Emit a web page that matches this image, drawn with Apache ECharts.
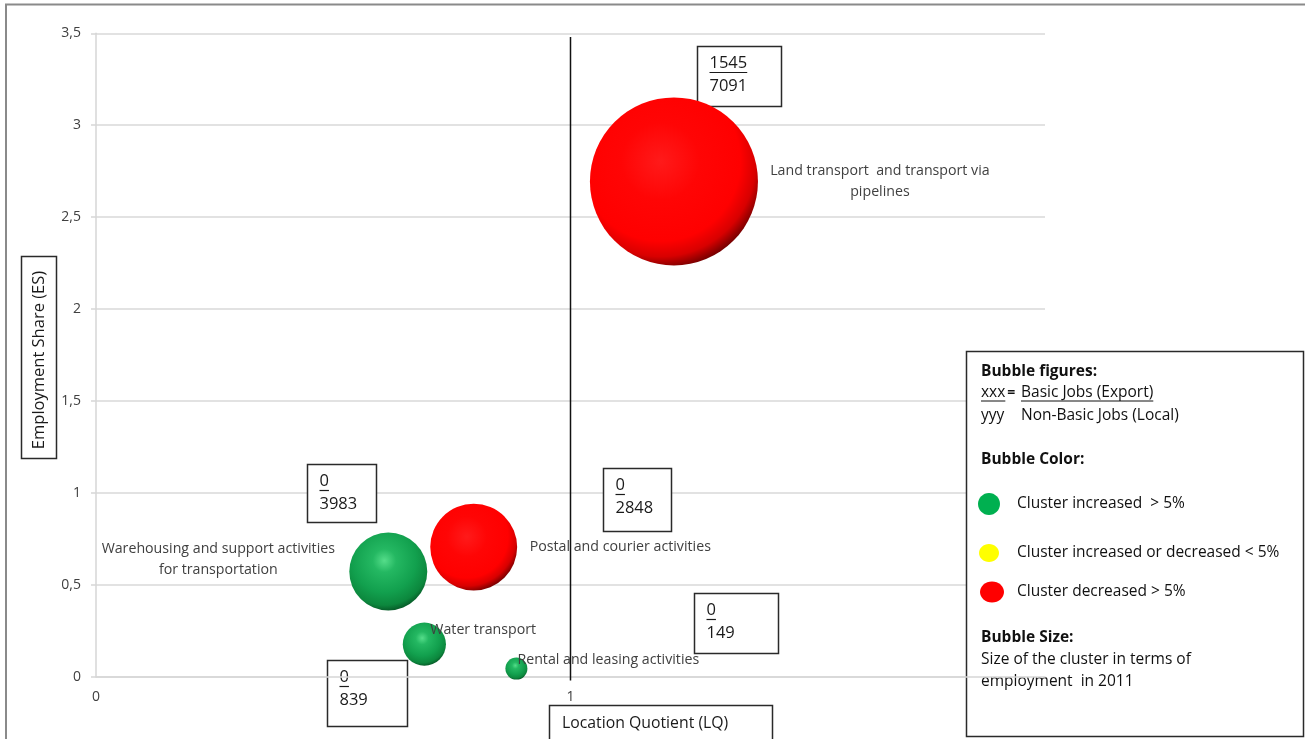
<!DOCTYPE html>
<html>
<head>
<meta charset="utf-8">
<script src="https://cdn.jsdelivr.net/npm/echarts@6/dist/echarts.min.js"></script>
<style>
  html, body { margin: 0; padding: 0; background: #fff; }
  #chart { width: 1305px; height: 739px; }
</style>
</head>
<body>
<div id="chart"></div>
<script>
// ---- Cluster data ----
const clusterNames = [
  'Land transport  and transport via\npipelines',
  'Postal and courier activities',
  'Warehousing and support activities\nfor transportation',
  'Water transport',
  'Rental and leasing activities'
];
const locationQuotient = [1.218, 0.796, 0.616, 0.692, 0.886];
const employmentShare  = [2.694, 0.705, 0.572, 0.177, 0.044];
const clusterEmployment = [8636, 2310, 1860, 570, 148];
const clusterTrend = ['decreased', 'decreased', 'increased', 'increased', 'increased'];
const basicJobs = [1545, 0, 0, 0, 0];
const localJobs = [7091, 2848, 3983, 839, 149];
const lqThreshold = 1;
const lqThresholdSpan = [-0.02, 3.48];
const xTickValues = [0, 1];
const yTickValues = [0, 0.5, 1, 1.5, 2, 2.5, 3, 3.5];

// ---- Presentation ----
const FONT = '"Open Sans"';
const sizeScale = 1.808;               // px per sqrt(job)
const labelLayout = [                   // text offset from bubble centre
  { align: 'center', offset: [206, 0] },
  { align: 'left',   offset: [56, 0] },
  { align: 'center', offset: [-170, -12] },
  { align: 'left',   offset: [6, -14] },
  { align: 'left',   offset: [1, -9] }
];
const boxLayout = [                     // figure box: offset of top-left from bubble centre, size
  { dx: 23.5, dy: -135, w: 84, h: 60 },
  { dx: 129,  dy: -79.5, w: 68, h: 63 },
  { dx: -81.5, dy: -108, w: 69, h: 58 },
  { dx: -97.5, dy: 15.5, w: 80, h: 66 },
  { dx: 178,  dy: -76, w: 84, h: 60 }
];

function sphere(kind) {
  if (kind === 'decreased') {
    return { type: 'radial', x: 0.42, y: 0.38, r: 0.66, colorStops: [
      { offset: 0, color: '#ff1a1a' },
      { offset: 0.35, color: '#ff0505' },
      { offset: 0.72, color: '#ff0000' },
      { offset: 0.86, color: '#d80000' },
      { offset: 1, color: '#5e0000' }
    ]};
  }
  return { type: 'radial', x: 0.45, y: 0.36, r: 0.68, colorStops: [
    { offset: 0, color: '#55dd8a' },
    { offset: 0.22, color: '#24b862' },
    { offset: 0.6, color: '#12a04e' },
    { offset: 0.84, color: '#0c873d' },
    { offset: 1, color: '#05471f' }
  ]};
}

const bubbleData = clusterNames.map((name, i) => ({
  name: name,
  value: [locationQuotient[i], employmentShare[i], clusterEmployment[i]],
  itemStyle: { color: sphere(clusterTrend[i]), opacity: 1 },
  label: { align: labelLayout[i].align, offset: labelLayout[i].offset }
}));

const chart = echarts.init(document.getElementById('chart'), null, { renderer: 'canvas' });

const fmtComma = v => String(v).replace('.', ',');

chart.setOption({
  animation: false,
  backgroundColor: '#ffffff',
  grid: { left: 96, right: 260, top: 33.3, bottom: 62.3, containLabel: false },
  xAxis: {
    type: 'value', min: 0, max: 2, interval: 1,
    axisLine: { show: true, onZero: false, lineStyle: { color: '#d6d6d6', width: 1.5 } },
    axisTick: { show: false },
    splitLine: { show: false },
    axisLabel: { margin: 13, color: '#404040', fontFamily: FONT, fontSize: 14,
      formatter: v => xTickValues.includes(v) ? fmtComma(v) : '' }
  },
  yAxis: {
    type: 'value', min: 0, max: 3.5, interval: 0.5,
    axisLine: { show: true, lineStyle: { color: '#d6d6d6', width: 1.5 } },
    axisTick: { show: true, length: 5, lineStyle: { color: '#d6d6d6', width: 1.5 } },
    splitLine: { show: true, lineStyle: { color: '#d9d9d9', width: 1.5 } },
    axisLabel: { margin: 15, color: '#404040', fontFamily: FONT, fontSize: 14,
      formatter: v => yTickValues.includes(v) ? fmtComma(v) : '' }
  },
  series: [
    {
      type: 'scatter',
      z: 2,
      data: bubbleData,
      symbolSize: val => sizeScale * Math.sqrt(val[2]),
      itemStyle: { opacity: 1 },
      label: {
        show: true, position: 'inside',
        formatter: p => p.name,
        color: '#404040', fontFamily: FONT, fontSize: 14.2, lineHeight: 21
      },
      emphasis: { disabled: true }
    },
    {
      type: 'line',
      z: 5,
      symbol: 'none',
      clip: false,
      data: lqThresholdSpan.map(y => [lqThreshold, y]),
      lineStyle: { color: '#111', width: 1.5 },
      emphasis: { disabled: true }
    }
  ]
});

// ---- Annotation boxes and legend panel ----
const measureCtx = document.createElement('canvas').getContext('2d');
function textWidth(str, size, weight) {
  measureCtx.font = (weight || 'normal') + ' ' + size + 'px ' + FONT;
  return measureCtx.measureText(str).width;
}

const graphics = [];
const NUMF = 16.5;

// Outer frame
graphics.push({ type: 'rect', shape: { x: 6, y: 4.5, width: 1320, height: 760 },
  style: { fill: null, stroke: '#8a8a8a', lineWidth: 2 }, z: 100, silent: true });

// Figure boxes next to bubbles
clusterNames.forEach((_, i) => {
  const c = chart.convertToPixel({ gridIndex: 0 }, [locationQuotient[i], employmentShare[i]]);
  const b = boxLayout[i];
  const x = Math.round(c[0] + b.dx) + 0.5, y = Math.round(c[1] + b.dy) + 0.5;
  const top = String(basicJobs[i]), bottom = String(localJobs[i]);
  const tw = textWidth(top, NUMF);
  graphics.push({
    type: 'group', z: 20, silent: true,
    children: [
      { type: 'rect', shape: { x: x, y: y, width: b.w, height: b.h },
        style: { fill: '#fff', stroke: '#2a2a2a', lineWidth: 1.5 } },
      { type: 'text', x: x + 12, y: y + 17,
        style: { text: top, font: NUMF + 'px ' + FONT, fill: '#1a1a1a', verticalAlign: 'middle' } },
      { type: 'line', shape: { x1: x + 12, y1: y + 26, x2: x + 12 + tw, y2: y + 26 },
        style: { stroke: '#1a1a1a', lineWidth: 1.2 } },
      { type: 'text', x: x + 12, y: y + 40,
        style: { text: bottom, font: NUMF + 'px ' + FONT, fill: '#1a1a1a', verticalAlign: 'middle' } }
    ]
  });
});

// Axis title boxes
graphics.push({
  type: 'group', z: 20, silent: true,
  children: [
    { type: 'rect', shape: { x: 21.5, y: 256.5, width: 35, height: 202 },
      style: { fill: '#fff', stroke: '#2a2a2a', lineWidth: 1.5 } },
    { type: 'text', x: 39, y: 360, rotation: Math.PI / 2,
      style: { text: 'Employment Share (ES)', font: '16.5px ' + FONT, fill: '#1a1a1a',
        align: 'center', verticalAlign: 'middle' } },
    { type: 'rect', shape: { x: 549.5, y: 705.5, width: 223, height: 50 },
      style: { fill: '#fff', stroke: '#2a2a2a', lineWidth: 1.5 } },
    { type: 'text', x: 562, y: 723,
      style: { text: 'Location Quotient (LQ)', font: '15.8px ' + FONT, fill: '#1a1a1a',
        verticalAlign: 'middle' } }
  ]
});

// Legend panel
const LX = 981, LF = 15.5;
const legendColors = [
  { color: '#00b050', text: 'Cluster increased  > 5%', cy: 504, rx: 11, ry: 11, cx: 989 },
  { color: '#ffff00', text: 'Cluster increased or decreased < 5%', cy: 553, rx: 10, ry: 9, cx: 989 },
  { color: '#ff0000', text: 'Cluster decreased > 5%', cy: 592, rx: 12, ry: 10.5, cx: 992 }
];
const xxxW = textWidth('xxx', LF);
const basicW = textWidth('Basic Jobs (Export)', LF);
const legendChildren = [
  { type: 'rect', shape: { x: 966.5, y: 351.5, width: 337, height: 385 },
    style: { fill: '#fff', stroke: '#2a2a2a', lineWidth: 1.5 } },
  { type: 'text', x: LX, y: 372, style: { text: 'Bubble figures:', font: 'bold ' + LF + 'px ' + FONT, fill: '#111', verticalAlign: 'middle' } },
  { type: 'text', x: LX, y: 393, style: { text: 'xxx', font: LF + 'px ' + FONT, fill: '#111', verticalAlign: 'middle' } },
  { type: 'line', shape: { x1: LX, y1: 401, x2: LX + xxxW, y2: 401 }, style: { stroke: '#111', lineWidth: 1 } },
  { type: 'text', x: LX + xxxW + 2, y: 393, style: { text: '=', font: 'bold 14px ' + FONT, fill: '#111', verticalAlign: 'middle' } },
  { type: 'text', x: 1021, y: 393, style: { text: 'Basic Jobs (Export)', font: LF + 'px ' + FONT, fill: '#111', verticalAlign: 'middle' } },
  { type: 'line', shape: { x1: 1021, y1: 401, x2: 1021 + basicW, y2: 401 }, style: { stroke: '#111', lineWidth: 1 } },
  { type: 'text', x: LX, y: 416, style: { text: 'yyy', font: LF + 'px ' + FONT, fill: '#111', verticalAlign: 'middle' } },
  { type: 'text', x: 1021, y: 416, style: { text: 'Non-Basic Jobs (Local)', font: LF + 'px ' + FONT, fill: '#111', verticalAlign: 'middle' } },
  { type: 'text', x: LX, y: 460, style: { text: 'Bubble Color:', font: 'bold ' + LF + 'px ' + FONT, fill: '#111', verticalAlign: 'middle' } },
  { type: 'text', x: LX, y: 638, style: { text: 'Bubble Size:', font: 'bold ' + LF + 'px ' + FONT, fill: '#111', verticalAlign: 'middle' } },
  { type: 'text', x: LX, y: 660, style: { text: 'Size of the cluster in terms of', font: LF + 'px ' + FONT, fill: '#111', verticalAlign: 'middle' } },
  { type: 'text', x: LX, y: 682, style: { text: 'employment  in 2011', font: LF + 'px ' + FONT, fill: '#111', verticalAlign: 'middle' } }
];
legendColors.forEach(l => {
  legendChildren.push({ type: 'ellipse', shape: { cx: l.cx, cy: l.cy, rx: l.rx, ry: l.ry }, style: { fill: l.color } });
  legendChildren.push({ type: 'text', x: 1017, y: l.cy, style: { text: l.text, font: LF + 'px ' + FONT, fill: '#111', verticalAlign: 'middle' } });
});
graphics.push({ type: 'group', z: 30, silent: true, children: legendChildren });

chart.setOption({ graphic: graphics });
</script>
</body>
</html>
